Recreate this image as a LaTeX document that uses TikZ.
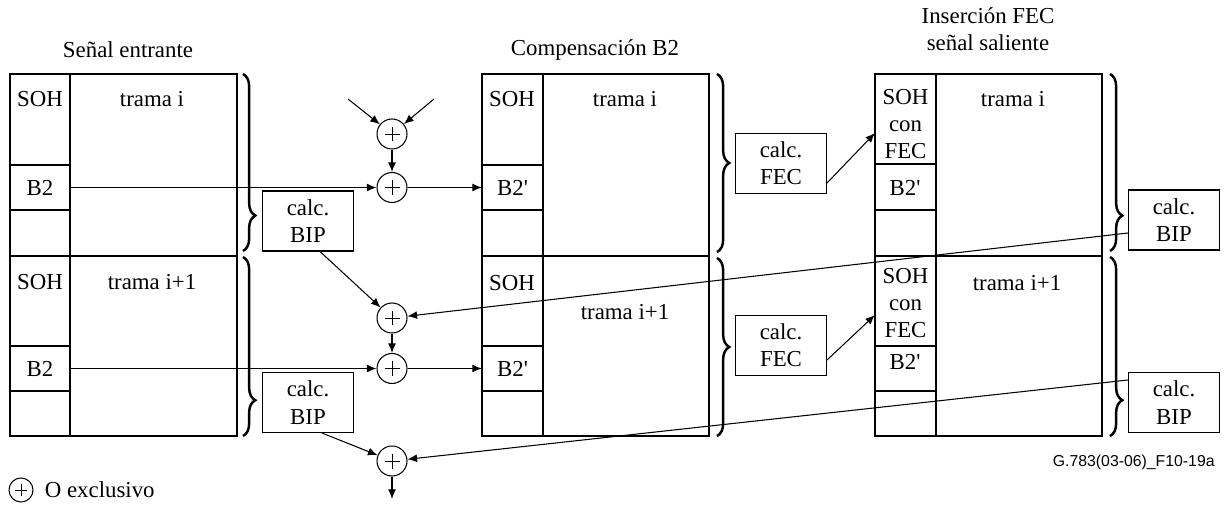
\documentclass[tikz,border=0pt]{standalone}
\usepackage{fontspec}
\setmainfont{Liberation Serif}
\setsansfont{Liberation Sans}
\usetikzlibrary{arrows.meta,decorations.pathreplacing,calc,positioning}

\begin{document}
\begin{tikzpicture}[x=0.02cm,y=-0.02cm,line width=0.6pt,
    font=\fontsize{13}{15.5}\selectfont,
    cell/.style={minimum width=1.2cm, inner sep=0pt, align=center},
    calcbox/.style={draw, minimum width=1.82cm, minimum height=1.2cm, inner sep=0pt, align=center},
    xor/.style={circle, draw, minimum size=0.6cm, inner sep=0pt,
      path picture={\draw[line width=0.5pt]
        ($(path picture bounding box.west)!0.25!(path picture bounding box.east)$) --
        ($(path picture bounding box.west)!0.75!(path picture bounding box.east)$)
        ($(path picture bounding box.south)!0.25!(path picture bounding box.north)$) --
        ($(path picture bounding box.south)!0.75!(path picture bounding box.north)$);}},
    arr/.style={-{Latex[length=5.5pt,width=4.5pt]}},
    brc/.style={decorate, decoration={brace, amplitude=7pt, aspect=#1}, line width=1.4pt}]
    \useasboundingbox (0,0) rectangle (1228,510);

    % senal entrante
    \node at (128,50) {Señal entrante};
    \draw (10,74) rectangle (237,436);
    \draw (70,74) -- (70,436);
    \draw (10,256) -- (237,256);
    \draw (10,165) -- (70,165) (10,210) -- (70,210);
    \draw (10,346) -- (70,346) (10,391) -- (70,391);
    \node at (40,99) {SOH};
    \node at (152,99) {trama i};
    \node[cell, minimum height=0.9cm] (eb2a) at (40,187.5) {B2};
    \node at (40,282) {SOH};
    \node at (152,282) {trama i+1};
    \node[cell, minimum height=0.9cm] (eb2b) at (40,368.5) {B2};
    \draw[brc=0.8] (243,74) -- (243,251);
    \draw[brc=0.8] (243,257) -- (243,436);

    % compensacion B2
    \node at (595,50) {Compensación B2};
    \draw (482,74) rectangle (709,436);
    \draw (543,74) -- (543,436);
    \draw (482,256) -- (709,256);
    \draw (482,165) -- (543,165) (482,210) -- (543,210);
    \draw (482,346) -- (543,346) (482,391) -- (543,391);
    \node at (512,99) {SOH};
    \node at (625,99) {trama i};
    \node[cell, minimum height=0.9cm] (cb2a) at (512.5,187.5) {B2\textquotesingle};
    \node at (512,283) {SOH};
    \node at (625,312) {trama i+1};
    \node[cell, minimum height=0.9cm] (cb2b) at (512.5,368.5) {B2\textquotesingle};
    \draw[brc=0.5] (717,74) -- (717,252);
    \draw[brc=0.5] (717,258) -- (717,436);

    % insercion FEC
    \node[align=center] at (988,29) {Inserción FEC\\señal saliente};
    \draw (875,74) rectangle (1102,436);
    \draw (936,74) -- (936,436);
    \draw (875,256) -- (1102,256);
    \draw (875,164) -- (936,164) (875,210) -- (936,210);
    \draw (875,346) -- (936,346) (875,391) -- (936,391);
    \node[cell, minimum height=1.8cm] (fsoha) at (905.5,124) {SOH\\con\\FEC};
    \node at (905,188) {B2\textquotesingle};
    \node at (1013,99) {trama i};
    \node[cell, minimum height=1.8cm] (fsohb) at (905.5,303) {SOH\\con\\FEC};
    \node at (905,362) {B2\textquotesingle};
    \node at (1017,283) {trama i+1};
    \draw[brc=0.8] (1110,74) -- (1110,251);
    \draw[brc=0.8] (1110,257) -- (1110,436);

    \node[calcbox] (bipa) at (308,221) {calc.\\BIP};
    \node[calcbox] (bipb) at (308,402.5) {calc.\\BIP};
    \node[calcbox] (feca) at (781,163.5) {calc.\\FEC};
    \node[calcbox] (fecb) at (781,345.5) {calc.\\FEC};
    \node[calcbox] (sbipa) at (1174,220) {calc.\\BIP};
    \node[calcbox] (sbipb) at (1174,402.5) {calc.\\BIP};

    \node[xor] (xa) at (392,134) {};
    \node[xor] (xb) at (392,187.5) {};
    \node[xor] (xc) at (392,318) {};
    \node[xor] (xd) at (392,368.5) {};
    \node[xor] (xe) at (392,461) {};
    \coordinate (ina) at (348,99);
    \coordinate (inb) at (434,99);
    \coordinate (outx) at (392,499);

    \draw[arr] (ina) -- (xa);
    \draw[arr] (inb) -- (xa);
    \draw[arr] (xa) -- (xb);
    \draw[arr] (eb2a) -- (xb);
    \draw[arr] (xb) -- (cb2a);
    \draw[arr] ([xshift=0.24cm]bipa.south) -- (xc);
    \draw[arr] (xc) -- (xd);
    \draw[arr] (eb2b) -- (xd);
    \draw[arr] (xd) -- (cb2b);
    \draw[arr] ([xshift=0.28cm]bipb.south) -- (xe);
    \draw[arr] (xe) -- (outx);
    \draw[arr] ([yshift=-0.26cm]sbipa.west) -- (xc);
    \draw[arr] ([yshift=0.45cm]sbipb.west) -- (xe);
    \draw[arr] ([yshift=-0.39cm]feca.east) -- ([yshift=-0.18cm]fsoha.west);
    \draw[arr] ([yshift=-0.29cm]fecb.east) -- ([yshift=-0.24cm]fsohb.west);

    % leyenda
    \node[xor, minimum size=0.48cm] (leg) at (21,490) {};
    \node[right=0.1cm of leg] (legtxt) {O exclusivo};
    \node[anchor=east, font=\sffamily\fontsize{9}{11}\selectfont] (ref) at (1221,462) {G.783(03-06)\_F10-19a};
\end{tikzpicture}
\end{document}
